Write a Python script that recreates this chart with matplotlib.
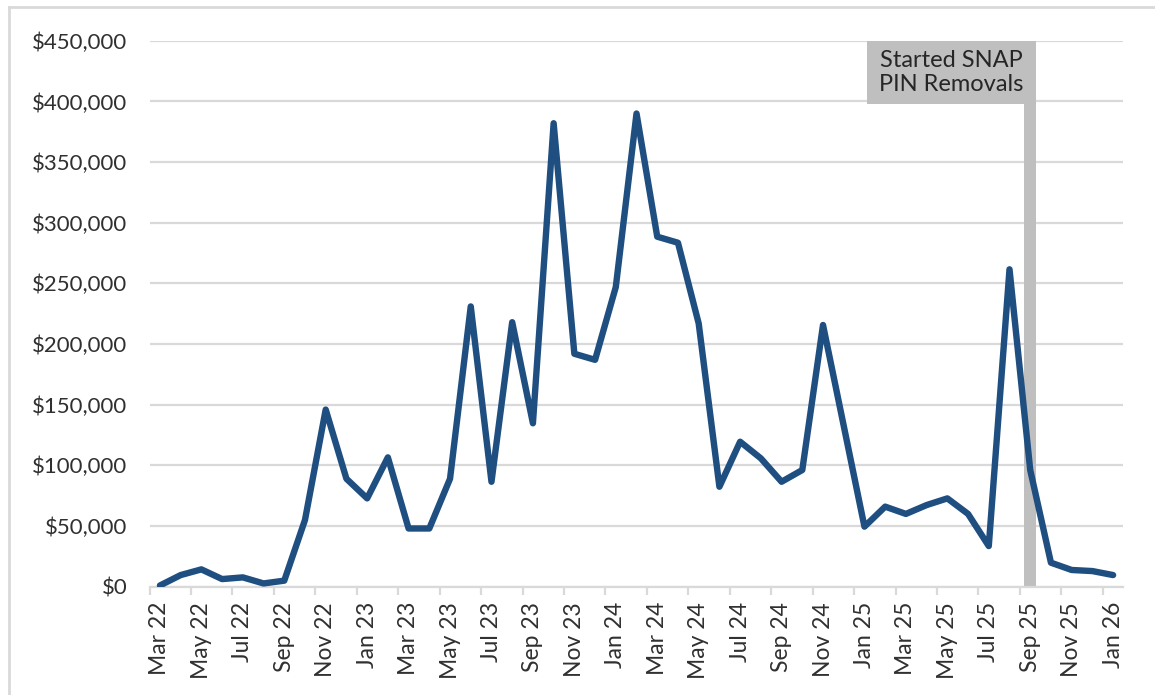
import pandas as pd
import matplotlib.pyplot as plt
from matplotlib.patches import Rectangle
from matplotlib.lines import Line2D
from matplotlib.ticker import FuncFormatter

months = pd.date_range('2022-03-01', '2026-01-01', freq='MS').strftime('%b %y').tolist()
amounts = [1000, 9600, 14300, 6300, 7700, 2700, 5000, 55000, 146000, 89000,
           72800, 106600, 48000, 48000, 89000, 231000, 86500, 218000, 134700, 382000,
           192000, 187000, 247000, 390000, 288500, 283500, 217000, 82400, 119500, 105800,
           86500, 96200, 215700, 132600, 49500, 66000, 60000, 67300, 72800, 60000,
           33500, 261600, 96200, 19800, 13800, 12900, 9600]
event_month = 'Sep 25'
event_label = 'Started SNAP\nPIN Removals'

txt = '#303030'
grid = '#D9D9D9'
band = '#BFBFBF'
plt.rcParams['font.family'] = ['Lato', 'DejaVu Sans']

fig = plt.figure(figsize=(11.55, 6.95), dpi=100)
ax = fig.add_axes([0.1295, 0.1558, 0.8432, 0.7856])

x = range(len(months))
ax.plot(x, amounts, color='#1F4E80', lw=4.6, solid_joinstyle='round',
        solid_capstyle='round', zorder=3)

ax.set_xlim(-0.5, len(months) - 0.5)
ax.set_ylim(0, 450000)
ax.set_yticks(range(0, 450001, 50000))
ax.yaxis.set_major_formatter(FuncFormatter(lambda v, p: f'${v:,.0f}'))
ax.grid(axis='y', color=grid, lw=1.6)
ax.set_axisbelow(True)

ax.set_xticks(range(0, len(months), 2))
ax.set_xticklabels(months[::2], rotation=90)
ax.set_xticks([i - 0.5 for i in range(0, len(months) + 1, 2)], minor=True)
ax.tick_params(axis='x', which='major', length=0, pad=11, labelsize=16.5, colors=txt)
ax.tick_params(axis='x', which='minor', length=6, width=1.6, color=grid)
ax.tick_params(axis='y', length=0, pad=16, labelsize=16, colors=txt)

for s in ['top', 'right', 'left']:
    ax.spines[s].set_visible(False)
ax.spines['bottom'].set_color(grid)
ax.spines['bottom'].set_linewidth(1.6)

ev = months.index(event_month)
bw = 0.29
ax.add_patch(Rectangle((ev - bw, 0), 2 * bw, 450000, color=band, lw=0, zorder=2))
ax.add_patch(Rectangle((ev - 7.9, 397800), 7.9 + bw, 52200, color=band, lw=0, zorder=2))
ax.text(ev - 3.8, 424000, event_label, ha='center', va='center', fontsize=17,
        color='#262626', linespacing=1.2, zorder=4)

fig.add_artist(Line2D([0.0078, 0.0078], [0, 0.99], color=grid, lw=2))
fig.add_artist(Line2D([0.0078, 1], [0.99, 0.99], color=grid, lw=2))

fig.savefig('out.png', dpi=100)
